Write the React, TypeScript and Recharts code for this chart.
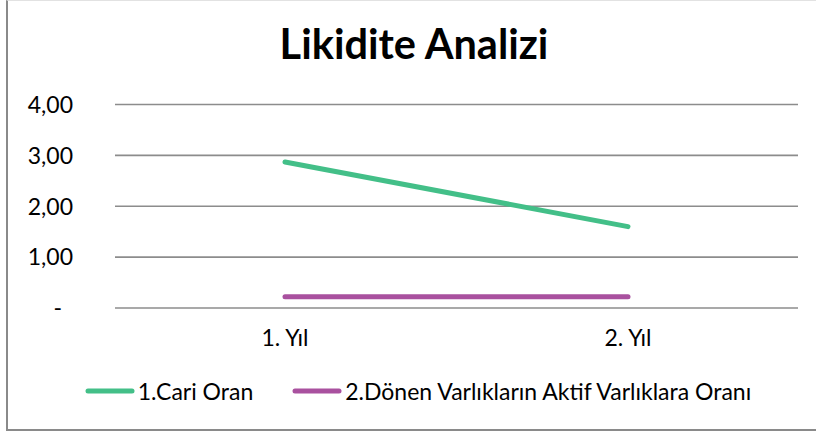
import { LineChart, Line, XAxis, YAxis, CartesianGrid, Legend } from "recharts";

const categories = ["1. Yıl", "2. Yıl"];
const cariOran = [2.87, 1.6];
const donenAktif = [0.22, 0.22];
const yTicks = [0, 1, 2, 3, 4];

const seriesNames = ["1.Cari Oran", "2.Dönen Varlıkların Aktif Varlıklara Oranı"];
const seriesColors = ["#43BF88", "#A9519F"];

const data = categories.map((c, i) => ({
    name: c,
    cari: cariOran[i],
    donen: donenAktif[i],
}));

const FONT = "Lato, 'Open Sans', sans-serif";

function fmt(v: number) {
    return v.toFixed(2).replace(".", ",");
}

function YTick(props: any) {
    const { x, y, payload } = props;
    const v = payload.value as number;
    return (
        <text
            x={v === 0 ? x - 11 : x}
            y={y}
            dy="0.36em"
            textAnchor="end"
            fill="#000"
            fontSize={23}
            fontFamily={FONT}
        >
            {v === 0 ? "-" : fmt(v)}
        </text>
    );
}

function LegendBox() {
    return (
        <div
            style={{
                display: "flex",
                justifyContent: "center",
                alignItems: "center",
                fontFamily: FONT,
                fontSize: 23,
                lineHeight: "28px",
                color: "#000",
                transform: "translateX(-9px)",
            }}
        >
            {seriesNames.map((n, i) => (
                <div key={n} style={{ display: "flex", alignItems: "center", marginRight: i === 0 ? 38 : 0 }}>
                    <svg width={52} height={8} style={{ marginRight: 2 }}>
                        <line x1={4} y1={4} x2={48} y2={4} stroke={seriesColors[i]} strokeWidth={5} strokeLinecap="round" />
                    </svg>
                    <span>{n}</span>
                </div>
            ))}
        </div>
    );
}

export default function App() {
    return (
        <div
            style={{
                position: "absolute",
                left: 0,
                top: 0,
                width: 816,
                height: 432,
                overflow: "hidden",
                background: "#fff",
            }}
        >
            <div
                style={{
                    position: "absolute",
                    left: 6,
                    top: 0,
                    width: 840,
                    height: 428,
                    borderLeft: "2px solid #8a8a8a",
                    borderBottom: "2px solid #8a8a8a",
                    borderTop: "1px solid #e2e2e2",
                }}
            />
            <div
                style={{
                    position: "absolute",
                    left: 6,
                    width: 816,
                    top: 18,
                    textAlign: "center",
                    fontFamily: FONT,
                    fontWeight: 700,
                    fontSize: 41.5,
                    color: "#000",
                }}
            >
                Likidite Analizi
            </div>
            <LineChart
                width={816}
                height={432}
                data={data}
                margin={{ top: 104.5, right: 18, left: 55, bottom: 27 }}
                style={{ position: "absolute", left: 0, top: 0 }}
            >
                <CartesianGrid vertical={false} stroke="#8c8c8c" strokeWidth={1.6} />
                <XAxis
                    dataKey="name"
                    axisLine={false}
                    tickLine={false}
                    height={69}
                    tickMargin={16}
                    padding={{ left: 170, right: 170 }}
                    tick={{ fill: "#000", fontSize: 23, fontFamily: FONT }}
                />
                <YAxis
                    domain={[0, 4]}
                    ticks={yTicks}
                    width={60}
                    axisLine={false}
                    tickLine={false}
                    tickMargin={36}
                    tick={<YTick />}
                />
                <Legend verticalAlign="bottom" content={<LegendBox />} />
                <Line
                    dataKey="cari"
                    name={seriesNames[0]}
                    stroke={seriesColors[0]}
                    strokeWidth={5}
                    strokeLinecap="round"
                    dot={false}
                    isAnimationActive={false}
                />
                <Line
                    dataKey="donen"
                    name={seriesNames[1]}
                    stroke={seriesColors[1]}
                    strokeWidth={5}
                    strokeLinecap="round"
                    dot={false}
                    isAnimationActive={false}
                />
            </LineChart>
        </div>
    );
}
